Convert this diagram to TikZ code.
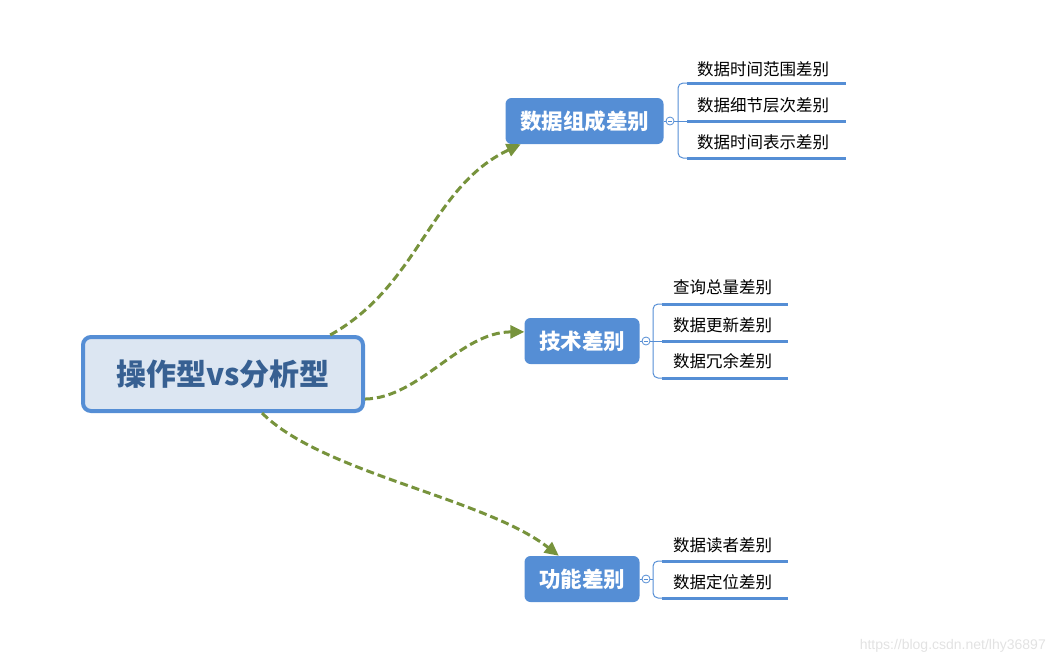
\documentclass[tikz,border=0pt]{standalone}
\usepackage{fontspec}
\newfontfamily\cjk{Noto Sans CJK SC}
\newfontfamily\wmfont{Liberation Sans}
\usetikzlibrary{arrows.meta}
\definecolor{boxblue}{HTML}{558ED5}
\definecolor{rootfill}{HTML}{DCE6F2}
\definecolor{roottext}{HTML}{376092}
\definecolor{arrgreen}{HTML}{77933C}
\definecolor{wmgray}{HTML}{E2E2E2}
\begin{document}
\begin{tikzpicture}[x=1pt,y=-1pt,
 rootbox/.style={draw=boxblue, line width=4pt, fill=rootfill, rounded corners=8pt, minimum width=280pt, minimum height=74pt, inner sep=0pt, font=\cjk\bfseries\fontsize{30}{33}\selectfont, text=roottext},
 branchbox/.style={fill=boxblue, rounded corners=6pt, minimum height=46pt, inner sep=0pt, font=\cjk\bfseries\fontsize{21.5}{24}\selectfont, text=white},
 leaf/.style={anchor=west, inner sep=0pt, text height=13.7pt, text depth=1.2pt, font=\cjk\fontsize{16.5}{18}\selectfont, text=black},
 link/.style={arrgreen, line width=3pt, dash pattern=on 8pt off 4pt, -{Triangle[length=14pt,width=13pt]}},
 thinline/.style={draw=boxblue, line width=1pt},
 underline/.style={draw=boxblue, line width=3pt},
 fold/.style={circle, draw=boxblue, fill=white, line width=0.8pt, minimum size=8pt, inner sep=0pt,
   path picture={\draw[boxblue, line width=0.8pt] ([xshift=-2.2pt]path picture bounding box.center) -- ([xshift=2.2pt]path picture bounding box.center);}},
]
\useasboundingbox (0,0) rectangle (1056,665);

% root
\node[rootbox] (root) at (223,374) {操作型vs分析型};

% branches
\node[branchbox, minimum width=158pt] (b1) at (584.5,121) {数据组成差别};
\node[branchbox, minimum width=115pt] (b2) at (582,341) {技术差别};
\node[branchbox, minimum width=115pt] (b3) at (582,579) {功能差别};

% arrows
\draw[link] (root.20) .. controls (420,285) and (430,187) .. (b1.200);
\draw[link] (root.-10) .. controls (420,398) and (460,332) .. (b2.171);
\draw[link] (root.-45) .. controls (322,473) and (485,498) .. (b3.135);

% ---- branch 1 leaves
\node[fold] (f1) at (670,121) {};
\coordinate (k1t) at (687,83);
\coordinate (k1m) at (687,121);
\coordinate (k1b) at (687,158);
\coordinate (e1t) at (846,83);
\coordinate (e1m) at (846,121);
\coordinate (e1b) at (846,158);
\draw[thinline] (b1.east) -- (f1);
\draw[thinline] (f1) -- (k1m);
\draw[thinline, rounded corners=5pt] (k1t) -- (678,83) -- (678,158) -- (k1b);
\draw[underline] (k1t) -- (e1t);
\draw[underline] (k1m) -- (e1m);
\draw[underline] (k1b) -- (e1b);
\node[leaf] (l11) at (697,69) {数据时间范围差别};
\node[leaf] (l12) at (697,105.5) {数据细节层次差别};
\node[leaf] (l13) at (697,142.5) {数据时间表示差别};

% ---- branch 2 leaves
\node[fold] (f2) at (646,341) {};
\coordinate (k2t) at (662,304);
\coordinate (k2m) at (662,341);
\coordinate (k2b) at (662,378);
\coordinate (e2t) at (788,304);
\coordinate (e2m) at (788,341);
\coordinate (e2b) at (788,378);
\draw[thinline] (b2.east) -- (f2);
\draw[thinline] (f2) -- (k2m);
\draw[thinline, rounded corners=5pt] (k2t) -- (653,304) -- (653,378) -- (k2b);
\draw[underline] (k2t) -- (e2t);
\draw[underline] (k2m) -- (e2m);
\draw[underline] (k2b) -- (e2b);
\node[leaf] (l21) at (673,287.5) {查询总量差别};
\node[leaf] (l22) at (673,325) {数据更新差别};
\node[leaf] (l23) at (673,361.5) {数据冗余差别};

% ---- branch 3 leaves
\node[fold] (f3) at (646,579) {};
\coordinate (k3t) at (662,561);
\coordinate (k3b) at (662,598);
\coordinate (j3) at (653,579);
\coordinate (e3t) at (788,561);
\coordinate (e3b) at (788,598);
\draw[thinline] (b3.east) -- (f3);
\draw[thinline] (f3) -- (j3);
\draw[thinline, rounded corners=5pt] (k3t) -- (653,561) -- (653,598) -- (k3b);
\draw[underline] (k3t) -- (e3t);
\draw[underline] (k3b) -- (e3b);
\node[leaf] (l31) at (673,545.5) {数据读者差别};
\node[leaf] (l32) at (673,582.5) {数据定位差别};

% watermark
\node[anchor=east, inner sep=0pt, text=wmgray, font=\wmfont\fontsize{14}{16}\selectfont] (wm) at (1046,646) {https://blog.csdn.net/lhy36897};
\end{tikzpicture}
\end{document}
